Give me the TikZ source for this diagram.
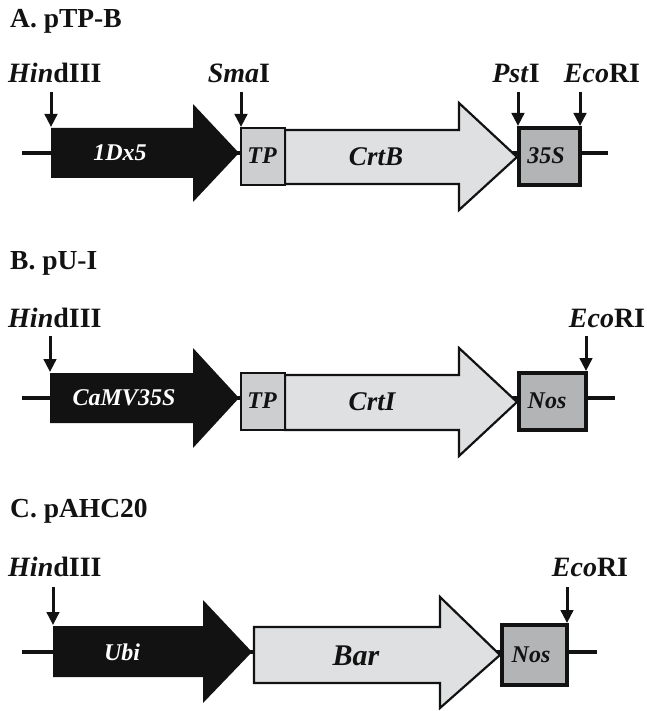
\documentclass[tikz,border=0pt]{standalone}
\usepackage{fontspec}
\setmainfont{Liberation Serif}
\usetikzlibrary{arrows.meta}
\definecolor{inkblack}{HTML}{121212}
\definecolor{cdsfill}{HTML}{DFE0E2}
\definecolor{tpfill}{HTML}{CDCED0}
\definecolor{termfill}{HTML}{B3B4B6}

\begin{document}
\begin{tikzpicture}[x=1pt,y=-1pt,
  backbone/.style={line width=3.2pt, draw=inkblack},
  sitearrow/.style={line width=3pt, draw=inkblack, -{Triangle[width=12.5pt,length=13pt]}},
  promoter/.style={fill=inkblack},
  codingseq/.style={fill=cdsfill, draw=inkblack, line width=2.2pt, line join=miter},
  transit/.style={fill=tpfill, draw=inkblack, line width=2.4pt},
  terminator/.style={fill=termfill, draw=inkblack, line width=4pt},
  paneltitle/.style={font=\fontsize{27.5}{30}\selectfont\bfseries, anchor=base west, inner sep=0pt, text=inkblack},
  sitelabel/.style={font=\fontsize{28}{30}\selectfont\bfseries, anchor=base, inner sep=0pt, text=inkblack},
  genelabel/.style={font=\fontsize{24}{26}\selectfont\bfseries\itshape, inner sep=0pt, text=inkblack},
  whitelabel/.style={genelabel, text=white},
  biglabel/.style={genelabel, font=\fontsize{27}{30}\selectfont\bfseries\itshape},
]
\useasboundingbox (0,0) rectangle (646,711);

% ---------------- A. pTP-B ----------------
\begin{scope}[shift={(0,153)}]
  \node[paneltitle] (titleA) at (10,-125) {A. pTP-B};
  \draw[backbone] (22,0) -- (608,0);
  % 1Dx5 promoter
  \fill[promoter] (51,-25) -- (193,-25) -- (193,-49) -- (239,0) -- (193,49) -- (193,25) -- (51,25) -- cycle;
  % CrtB coding sequence
  \draw[codingseq] (285,-23) -- (459,-23) -- (459,-50) -- (517,4) -- (459,57) -- (459,31) -- (285,31) -- cycle;
  % transit peptide and 35S terminator
  \draw[transit] (241,-25) rectangle (285,32);
  \draw[terminator] (519,-25) rectangle (580,32);
  \node[whitelabel] (pA) at (120,0) {1Dx5};
  \node[genelabel] (tpA) at (262,3) {TP};
  \node[biglabel] (crtB) at (376,4) {CrtB};
  \node[genelabel] (tA) at (546,3) {35S};
  % restriction sites
  \node[sitelabel, anchor=base west] (hindA) at (8,-70) {\textit{Hin}dIII};
  \node[sitelabel] (smaA) at (239,-70) {\textit{Sma}I};
  \node[sitelabel] (pstA) at (516,-70) {\textit{Pst}I};
  \node[sitelabel] (ecoA) at (602,-70) {\textit{Eco}RI};
  \coordinate (hindAt) at (51,-61);  \coordinate (hindAc) at (51,-26);
  \coordinate (smaAt) at (241,-61);  \coordinate (smaAc) at (241,-26);
  \coordinate (pstAt) at (518,-61);  \coordinate (pstAc) at (518,-27);
  \coordinate (ecoAt) at (580,-61);  \coordinate (ecoAc) at (580,-27);
  \draw[sitearrow] (hindAt) -- (hindAc);
  \draw[sitearrow] (smaAt) -- (smaAc);
  \draw[sitearrow] (pstAt) -- (pstAc);
  \draw[sitearrow] (ecoAt) -- (ecoAc);
\end{scope}

% ---------------- B. pU-I ----------------
\begin{scope}[shift={(0,398)}]
  \node[paneltitle] (titleB) at (10,-129) {B. pU-I};
  \draw[backbone] (22,0) -- (615,0);
  \fill[promoter] (50,-25) -- (193,-25) -- (193,-50) -- (239,0) -- (193,50) -- (193,25) -- (50,25) -- cycle;
  \draw[codingseq] (285,-23) -- (459,-23) -- (459,-50) -- (517,4) -- (459,58) -- (459,32) -- (285,32) -- cycle;
  \draw[transit] (241,-25) rectangle (285,32);
  \draw[terminator] (519,-25) rectangle (586,32);
  \node[whitelabel] (pB) at (124,0) {CaMV35S};
  \node[genelabel] (tpB) at (262,3) {TP};
  \node[biglabel] (crtI) at (372,4) {CrtI};
  \node[genelabel] (tB) at (547,3) {Nos};
  \node[sitelabel, anchor=base west] (hindB) at (8,-71) {\textit{Hin}dIII};
  \node[sitelabel] (ecoB) at (607,-71) {\textit{Eco}RI};
  \coordinate (hindBt) at (50,-62);  \coordinate (hindBc) at (50,-26);
  \coordinate (ecoBt) at (586,-62);  \coordinate (ecoBc) at (586,-27);
  \draw[sitearrow] (hindBt) -- (hindBc);
  \draw[sitearrow] (ecoBt) -- (ecoBc);
\end{scope}

% ---------------- C. pAHC20 ----------------
\begin{scope}[shift={(0,652)}]
  \node[paneltitle] (titleC) at (10,-135) {C. pAHC20};
  \draw[backbone] (22,0) -- (597,0);
  \fill[promoter] (53,-26) -- (203,-26) -- (203,-52) -- (252,0) -- (203,51) -- (203,25) -- (53,25) -- cycle;
  \draw[codingseq] (254,-25) -- (440,-25) -- (440,-55) -- (500,3) -- (440,56) -- (440,31) -- (254,31) -- cycle;
  \draw[terminator] (502,-27) rectangle (567,33);
  \node[whitelabel] (pC) at (122,0) {Ubi};
  \node[biglabel, font=\fontsize{30}{32}\selectfont\bfseries\itshape] (bar) at (356,4) {Bar};
  \node[genelabel] (tC) at (531,3) {Nos};
  \node[sitelabel, anchor=base west] (hindC) at (8,-76) {\textit{Hin}dIII};
  \node[sitelabel] (ecoC) at (590,-76) {\textit{Eco}RI};
  \coordinate (hindCt) at (53,-65);  \coordinate (hindCc) at (53,-27);
  \coordinate (ecoCt) at (567,-65);  \coordinate (ecoCc) at (567,-29);
  \draw[sitearrow] (hindCt) -- (hindCc);
  \draw[sitearrow] (ecoCt) -- (ecoCc);
\end{scope}
\end{tikzpicture}
\end{document}
